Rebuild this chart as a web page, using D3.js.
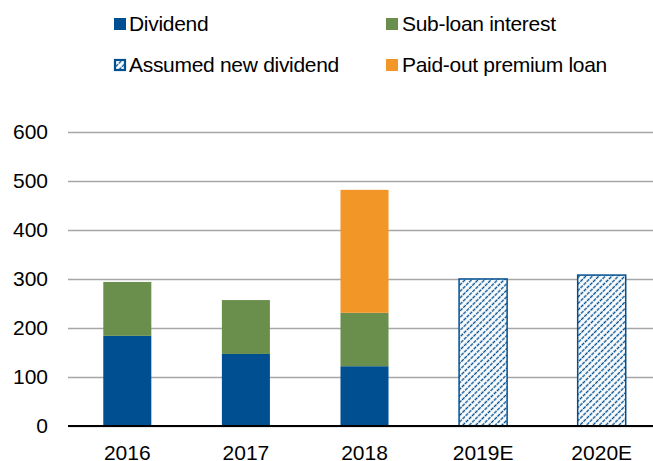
<!DOCTYPE html>
<html>
<head>
<meta charset="utf-8">
<script src="https://cdn.jsdelivr.net/npm/d3@7"></script>
<style>
  body { margin: 0; background: #fff; }
  svg { display: block; font-family: "Liberation Sans", Arial, sans-serif; }
</style>
</head>
<body>
<script>
// chart values
var years = ['2016', '2017', '2018', '2019E', '2020E'];
var dividend = [184, 147, 122, 0, 0];
var subLoan = [110, 110, 109, 0, 0];
var premiumLoan = [0, 0, 251, 0, 0];
var assumedDividend = [0, 0, 0, 300, 308];
var yTicks = [0, 100, 200, 300, 400, 500, 600];

var keys = ['dividend', 'subLoan', 'premiumLoan', 'assumed'];
var legendLabels = ['Dividend', 'Sub-loan interest', 'Assumed new dividend', 'Paid-out premium loan'];
var legendKeys = ['dividend', 'subLoan', 'assumed', 'premiumLoan'];

var colors = {
    dividend: '#004f91',
    subLoan: '#6a8f4d',
    premiumLoan: '#f39628',
    assumed: 'url(#hatch)'
};

var W = 653, H = 461;
var margin = {top: 132, left: 68, bottom: 35};
var plotBottom = H - margin.bottom;
var fontSize = 21;

var rows = years.map(function(y, i) {
    return {year: y, dividend: dividend[i], subLoan: subLoan[i],
        premiumLoan: premiumLoan[i], assumed: assumedDividend[i]};
});

var svg = d3.select('body')
    .append('svg')
    .attr('width', W)
    .attr('height', H);

// hatch pattern for the forecast bars: dashed "/" lines
var pat = svg.append('defs')
    .append('pattern')
    .attr('id', 'hatch')
    .attr('patternUnits', 'userSpaceOnUse')
    .attr('patternTransform', 'rotate(-45)')
    .attr('width', 4.4)
    .attr('height', 4.6);
pat.append('rect')
    .attr('width', 4.4).attr('height', 4.6)
    .attr('fill', '#fff');
pat.append('line')
    .attr('x1', 0).attr('x2', 4.4)
    .attr('y1', 2.3).attr('y2', 2.3)
    .attr('stroke', '#004f91')
    .attr('stroke-width', 1.6)
    .attr('stroke-dasharray', '3.5,0.9');

var x = d3.scaleBand()
    .domain(years)
    .range([margin.left, 661])
    .paddingInner(0.595)
    .paddingOuter(0.2975);

var y = d3.scaleLinear()
    .domain([0, 600])
    .range([plotBottom, margin.top]);

// gridlines + y labels
var yAxis = svg.append('g')
    .attr('transform', 'translate(' + margin.left + ',0)')
    .call(d3.axisLeft(y)
        .tickValues(yTicks)
        .tickSizeInner(-(W - margin.left))
        .tickSizeOuter(0)
        .tickPadding(20));
yAxis.select('.domain').remove();
yAxis.selectAll('line')
    .attr('stroke', '#a6a6a6')
    .attr('stroke-width', 1.5);
yAxis.selectAll('text')
    .attr('font-size', fontSize)
    .attr('font-family', '"Liberation Sans", Arial, sans-serif')
    .attr('fill', '#000');

var stacked = d3.stack().keys(keys)(rows);

svg.append('g')
    .selectAll('g')
    .data(stacked)
    .enter()
    .append('g')
    .each(function(s) {
        d3.select(this).selectAll('rect')
            .data(s.filter(function(d) { return d[1] - d[0] > 0; }))
            .enter()
            .append('rect')
            .attr('x', function(d) { return x(d.data.year); })
            .attr('width', x.bandwidth())
            .attr('y', function(d) { return y(d[1]); })
            .attr('height', function(d) { return y(d[0]) - y(d[1]); })
            .attr('fill', colors[s.key])
            .attr('stroke', s.key === 'assumed' ? '#004f91' : 'none')
            .attr('stroke-width', s.key === 'assumed' ? 1.5 : 0);
    });

// x axis
var xAxis = svg.append('g')
    .attr('transform', 'translate(0,' + plotBottom + ')')
    .call(d3.axisBottom(x).tickSize(0).tickPadding(19));
xAxis.select('.domain')
    .attr('d', 'M' + margin.left + ',0H' + W)
    .attr('stroke', '#000')
    .attr('stroke-width', 2);
xAxis.selectAll('text')
    .attr('font-size', fontSize)
    .attr('font-family', '"Liberation Sans", Arial, sans-serif')
    .attr('fill', '#000');

// legend
var legendPos = [[114, 24], [386, 24], [114, 65], [386, 65]];
var legend = svg.append('g')
    .selectAll('g')
    .data(legendKeys)
    .enter()
    .append('g')
    .attr('transform', function(d, i) {
        return 'translate(' + legendPos[i][0] + ',' + legendPos[i][1] + ')';
    });
legend.append('rect')
    .attr('x', function(d) { return d === 'assumed' ? 1 : 0; })
    .attr('y', function(d) { return d === 'assumed' ? -5 : -6; })
    .attr('width', function(d) { return d === 'assumed' ? 10 : 12; })
    .attr('height', function(d) { return d === 'assumed' ? 10 : 12; })
    .attr('fill', function(d) { return colors[d]; })
    .attr('stroke', function(d) { return d === 'assumed' ? '#004f91' : 'none'; })
    .attr('stroke-width', 2.2);
legend.append('text')
    .attr('x', function(d, i) { return i % 2 === 0 ? 15 : 16; })
    .attr('y', 0)
    .attr('dy', '0.35em')
    .attr('font-size', fontSize)
    .attr('letter-spacing', -0.3)
    .attr('fill', '#000')
    .text(function(d) { return legendLabels[legendKeys.indexOf(d)]; });
</script>
</body>
</html>
